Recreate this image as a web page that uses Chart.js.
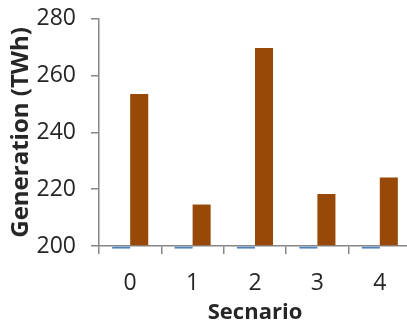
<!DOCTYPE html>
<html>
<head>
<meta charset="utf-8">
<script src="https://cdn.jsdelivr.net/npm/chart.js@4/dist/chart.umd.min.js"></script>
<style>
  html, body { margin:0; padding:0; background:#fff; overflow:hidden; }
  #wrap { width:411px; height:334px; position:relative; margin-top:-10.5px; }
</style>
</head>
<body>
<div id="wrap"><canvas id="genChart"></canvas></div>
<script>
// scenario categories
const scenarios = ['0', '1', '2', '3', '4'];
// first series sits right on the 200 floor (shows as a thin blue dash)
const baseSeries = [199.1, 199.1, 199.1, 199.1, 199.1];
// generation per scenario (TWh)
const generation = [253.5, 214.6, 269.7, 218.3, 224.1];
const yTicks = [200, 220, 240, 260, 280];

const axisGrey = '#868686';
const textCol = '#262626';
const fam = "'Open Sans', 'Liberation Sans', sans-serif";

new Chart(document.getElementById('genChart'), {
  type: 'bar',
  data: {
    labels: scenarios,
    datasets: [
      { data: baseSeries, base: yTicks[0], backgroundColor: '#4F81BD', clip: false },
      { data: generation, base: yTicks[0], backgroundColor: '#984807', clip: false }
    ]
  },
  options: {
    responsive: true, maintainAspectRatio: false, animation: false,
    categoryPercentage: 0.578, barPercentage: 1,
    layout: { padding: { top: 6.5, right: 0, bottom: 0, left: 0 } },
    plugins: { legend: { display: false }, tooltip: { enabled: false } },
    scales: {
      x: {
        offset: true,
        grid: { display: true, offset: true, drawOnChartArea: false, drawTicks: true, tickLength: 8, color: axisGrey, lineWidth: 1.5 },
        border: { display: true, color: axisGrey, width: 1.5 },
        ticks: { color: textCol, padding: 16, font: { family: fam, size: 23 } },
        title: { display: true, text: 'Secnario', color: textCol, padding: { top: 0, bottom: -2 }, font: { family: fam, size: 22, weight: 'bold' } },
        afterFit: s => { s.height = 78; }
      },
      y: {
        min: yTicks[0], max: yTicks[yTicks.length - 1],
        afterBuildTicks: s => { s.ticks = yTicks.map(v => ({ value: v })); },
        grid: { display: true, drawOnChartArea: false, drawTicks: true, tickLength: 8, color: axisGrey, lineWidth: 1.5 },
        border: { display: true, color: axisGrey, width: 1.5 },
        ticks: { color: textCol, padding: 15, font: { family: fam, size: 23 } },
        title: { display: true, text: 'Generation (TWh)', color: textCol, padding: { top: 7, bottom: 0 }, font: { family: fam, size: 24, weight: 'bold' } },
        afterFit: s => { s.width = 99; }
      }
    }
  }
});
</script>
</body>
</html>
